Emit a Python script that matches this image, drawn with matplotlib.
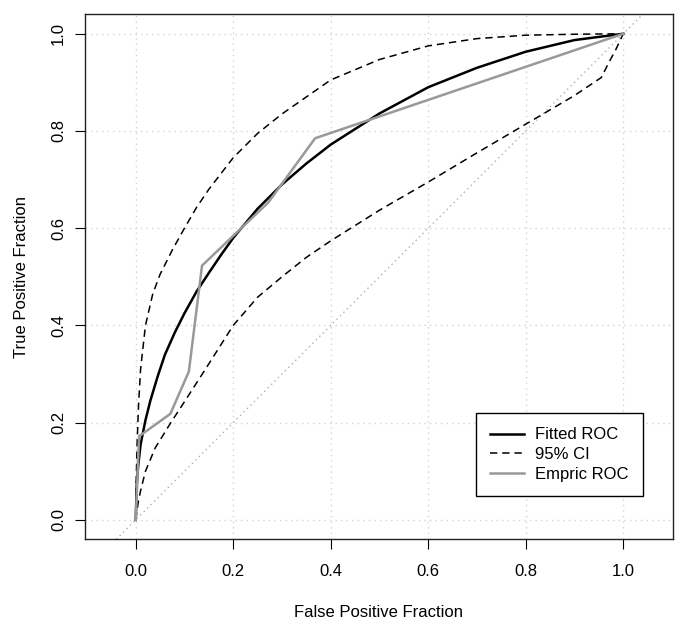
import matplotlib
matplotlib.use("Agg")
import matplotlib.pyplot as plt

plt.rcParams['font.family'] = ['Liberation Sans', 'DejaVu Sans']

# Fitted ROC
fit_fpf = [0, 0.002, 0.005, 0.01, 0.02, 0.03, 0.045, 0.06, 0.08, 0.1, 0.125, 0.15,
           0.175, 0.2, 0.25, 0.3, 0.35, 0.4, 0.5, 0.6, 0.7, 0.8, 0.9, 1.0]
fit_tpf = [0, 0.07, 0.11, 0.155, 0.205, 0.245, 0.295, 0.34, 0.385, 0.425, 0.47, 0.508,
           0.545, 0.58, 0.64, 0.69, 0.733, 0.772, 0.836, 0.89, 0.93, 0.963, 0.987, 1.0]

# 95% CI upper band
ci_up_fpf = [0, 0.001, 0.003, 0.006, 0.01, 0.02, 0.035, 0.05, 0.075, 0.1, 0.125, 0.15,
             0.2, 0.25, 0.3, 0.4, 0.5, 0.6, 0.7, 0.8, 0.9, 1.0]
ci_up_tpf = [0, 0.08, 0.16, 0.24, 0.31, 0.40, 0.465, 0.505, 0.555, 0.60, 0.643, 0.68,
             0.745, 0.795, 0.835, 0.905, 0.947, 0.975, 0.99, 0.997, 0.999, 1.0]

# 95% CI lower band
ci_lo_fpf = [0, 0.005, 0.01, 0.02, 0.04, 0.072, 0.1, 0.143, 0.2, 0.25, 0.3, 0.35, 0.4,
             0.5, 0.6, 0.7, 0.8, 0.9, 0.955, 0.97, 0.985, 1.0]
ci_lo_tpf = [0, 0.035, 0.06, 0.10, 0.148, 0.20, 0.243, 0.31, 0.40, 0.458, 0.50, 0.54,
             0.574, 0.637, 0.695, 0.755, 0.814, 0.873, 0.91, 0.94, 0.968, 1.0]

# Empirical ROC
emp_fpf = [0, 0.007, 0.071, 0.109, 0.136, 0.272, 0.368, 1.0]
emp_tpf = [0, 0.172, 0.218, 0.305, 0.523, 0.653, 0.785, 1.0]

ticks = [0.0, 0.2, 0.4, 0.6, 0.8, 1.0]
tick_labels = ["0.0", "0.2", "0.4", "0.6", "0.8", "1.0"]

FS = 12

fig = plt.figure(figsize=(6.85, 6.24), dpi=100)
ax = fig.add_axes([85/685, 1 - 539.3/624, 588/685, 525/624])
ax.set_xlim(-0.104, 1.102)
ax.set_ylim(-0.04, 1.04)

# grid
for t in ticks:
    ax.axvline(t, color='#d3d3d3', lw=1.0, linestyle=(0, (1, 3)), zorder=0)
    ax.axhline(t, color='#d3d3d3', lw=1.0, linestyle=(0, (1, 3)), zorder=0)

# diagonal
ax.axline((0, 0), (1, 1), color='#b0b0b0', lw=1.0, linestyle=(0, (1, 2.5)), zorder=1)

ax.plot(fit_fpf, fit_tpf, color='black', lw=1.8, label='Fitted ROC', zorder=3)
ax.plot(ci_up_fpf, ci_up_tpf, color='black', lw=1.1, linestyle=(0, (4.8, 3.2)),
        label='95% CI', zorder=3)
ax.plot(ci_lo_fpf, ci_lo_tpf, color='black', lw=1.1, linestyle=(0, (4.8, 3.2)), zorder=3)
ax.plot(emp_fpf, emp_tpf, color='#999999', lw=1.8, label='Empric ROC', zorder=4)

ax.set_xticks(ticks)
ax.set_xticklabels(tick_labels)
ax.set_yticks(ticks)
ax.set_yticklabels(tick_labels, rotation=90, va='center')
ax.tick_params(axis='both', direction='out', length=7.5, width=0.8, labelsize=FS,
               colors='black')
ax.tick_params(axis='x', pad=10.5)
ax.tick_params(axis='y', pad=6)

for s in ax.spines.values():
    s.set_linewidth(1.0)
    s.set_color('#222222')

fig.text(379/685, 1 - 612.3/624, 'False Positive Fraction', ha='center', va='center',
         fontsize=FS)
fig.text(22/685, 1 - 276.5/624, 'True Positive Fraction', ha='center', va='center',
         rotation=90, fontsize=FS)

leg = ax.legend(loc='upper left', bbox_to_anchor=(476/685, 1 - 413.3/624),
                bbox_transform=fig.transFigure, fontsize=FS, frameon=True,
                fancybox=False, edgecolor='black', framealpha=1,
                handlelength=2.0, handletextpad=0.7, labelspacing=0.28,
                borderpad=0.85, borderaxespad=0)
leg.get_frame().set_linewidth(1.0)

fig.savefig('out.png', dpi=100)
